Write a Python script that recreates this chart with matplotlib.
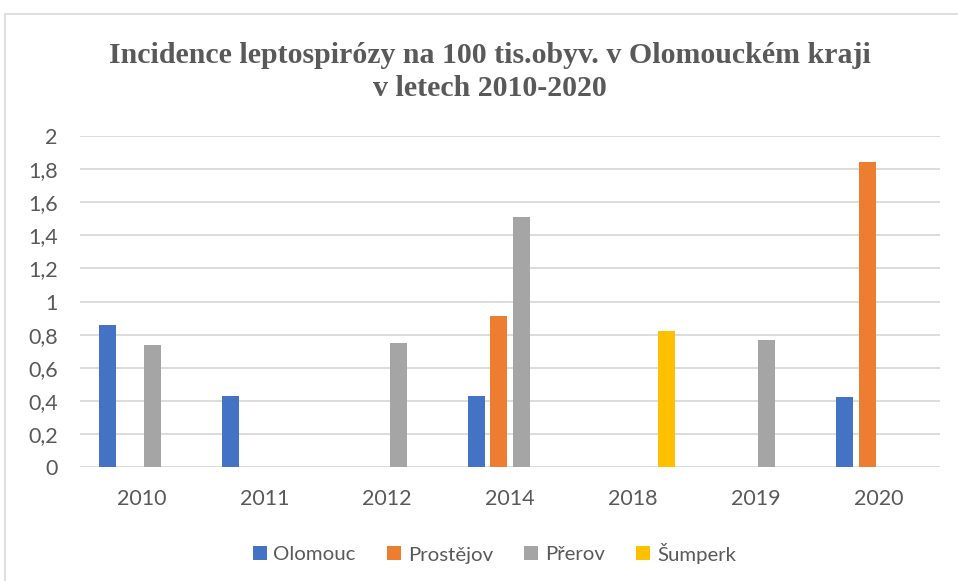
import numpy as np
import matplotlib.pyplot as plt
from matplotlib.patches import Rectangle
from matplotlib.lines import Line2D

years = ['2010', '2011', '2012', '2014', '2018', '2019', '2020']
series = ['Olomouc', 'Prostějov', 'Přerov', 'Šumperk']
olomouc = [0.86, 0.43, 0, 0.43, 0, 0, 0.42]
prostejov = [0, 0, 0, 0.91, 0, 0, 1.84]
prerov = [0.74, 0, 0.75, 1.51, 0, 0.77, 0]
sumperk = [0, 0, 0, 0, 0.82, 0, 0]
yticks = [0, 0.2, 0.4, 0.6, 0.8, 1, 1.2, 1.4, 1.6, 1.8, 2]
colors = ['#4472c4', '#ed7d31', '#a5a5a5', '#ffc000']

txt = '#595959'
fig = plt.figure(figsize=(9.58, 5.81), dpi=100)
# ramecek grafu (vpravo a dole orezany)
fig.patches.append(Rectangle((5 / 958, -0.01), 1.0, 1 - 14 / 581 + 0.01,
                             transform=fig.transFigure, fill=False,
                             edgecolor='#d9d9d9', linewidth=1.2))
ax = fig.add_axes([80 / 958, 1 - 467 / 581, 860 / 958, 331 / 581])

x = np.arange(len(years))
slot = 0.183
width = 0.138
for i, (name, vals) in enumerate(zip(series, [olomouc, prostejov, prerov, sumperk])):
    ax.bar(x + (i - 1.5) * slot, vals, width, color=colors[i], label=name,
           linewidth=0, zorder=3)

ax.set_xlim(-0.5, len(years) - 0.5)
ax.set_ylim(0, 2)
ax.set_yticks(yticks)
ax.set_yticklabels([f'{v:g}'.replace('.', ',') for v in yticks])
ax.set_xticks(x)
ax.set_xticklabels(years)
ax.grid(axis='y', color='#d9d9d9', linewidth=1.3, zorder=0)
for s in ax.spines.values():
    s.set_visible(False)
ax.tick_params(length=0, labelsize=15.5, labelcolor=txt)
ax.tick_params(axis='y', pad=16)
ax.tick_params(axis='x', pad=16)
for lab in ax.get_xticklabels() + ax.get_yticklabels():
    lab.set_family('Lato')

title_kw = dict(ha='center', va='baseline', fontsize=21.5, fontweight='bold',
                family='Liberation Serif', color=txt)
fig.text(490 / 958, 1 - 63 / 581,
         'Incidence leptospirózy na 100 tis.obyv. v Olomouckém kraji', **title_kw)
fig.text(490 / 958, 1 - 96 / 581, 'v letech 2010-2020', **title_kw)

# ctvercove znacky v legende
handles = [Line2D([], [], marker='s', linestyle='none', markersize=10,
                  markeredgewidth=0, color=c) for c in colors]
leg = fig.legend(handles, series, loc='center',
                 bbox_to_anchor=(494 / 958, 1 - 553 / 581), ncol=4,
                 frameon=False, prop={'family': 'Lato', 'size': 14.7},
                 handlelength=0.75, handletextpad=0.3,
                 columnspacing=1.5, borderpad=0)
for t in leg.get_texts():
    t.set_color(txt)

fig.savefig('out.png', dpi=100)
